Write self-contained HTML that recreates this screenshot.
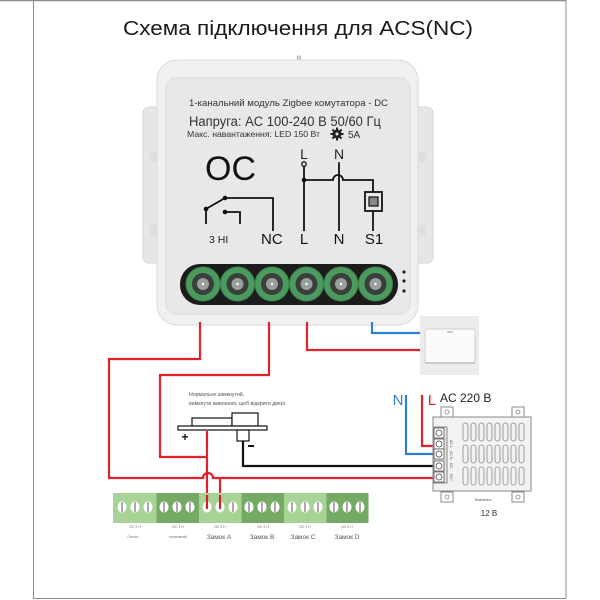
<!DOCTYPE html>
<html><head><meta charset="utf-8"><style>
html,body{margin:0;padding:0;background:#fff;}
svg{display:block;}
text{font-family:"Liberation Sans","Noto Sans CJK SC",sans-serif;}
</style></head><body>
<svg width="600" height="600" viewBox="0 0 600 600" xmlns="http://www.w3.org/2000/svg">
<rect x="0" y="0" width="600" height="600" fill="#fff"/>
<!-- frame -->
<line x1="0" y1="0.5" x2="566" y2="0.5" stroke="#8c8c8c" stroke-width="1.5"/>
<line x1="33.5" y1="0" x2="33.5" y2="599" stroke="#8c8c8c" stroke-width="1"/>
<line x1="566" y1="0" x2="566" y2="599" stroke="#8c8c8c" stroke-width="1"/>
<line x1="33" y1="598.5" x2="566" y2="598.5" stroke="#8c8c8c" stroke-width="1"/>

<!-- title -->
<text x="298" y="35" font-size="20" fill="#1a1a1a" text-anchor="middle" textLength="350" lengthAdjust="spacingAndGlyphs">Схема підключення для ACS(NC)</text>
<text x="299" y="60" font-size="6" fill="#777" text-anchor="middle">III</text>

<!-- module side tabs -->
<rect x="143" y="107" width="20" height="156" rx="6" fill="#e6e6e6" stroke="#d6d6d6"/>
<rect x="412" y="107" width="21" height="156" rx="6" fill="#e6e6e6" stroke="#d6d6d6"/>
<rect x="150" y="152" width="10" height="10" fill="#dedede"/>
<rect x="150" y="225" width="10" height="10" fill="#dedede"/>
<rect x="416" y="152" width="10" height="10" fill="#dedede"/>
<rect x="416" y="225" width="10" height="10" fill="#dedede"/>
<!-- module body -->
<rect x="157" y="60" width="261" height="265" rx="20" fill="#f0f0f0" stroke="#dadada"/>
<rect x="166" y="78" width="244" height="236" rx="10" fill="#e8e8e8" stroke="#d9d9d9"/>

<!-- module texts -->
<text x="189" y="106" font-size="9.5" fill="#333" textLength="199" lengthAdjust="spacingAndGlyphs">1-канальний модуль Zigbee комутатора - DC</text>
<text x="189" y="126" font-size="13.5" fill="#333" textLength="192" lengthAdjust="spacingAndGlyphs">Напруга: AC 100-240 В 50/60 Гц</text>
<text x="187" y="137" font-size="8.5" fill="#333" textLength="133" lengthAdjust="spacingAndGlyphs">Макс. навантаження: LED 150 Вт</text>
<g fill="#222">
<circle cx="337" cy="134" r="4.5"/>
<rect x="336" y="127.5" width="2" height="13"/>
<rect x="330.5" y="133" width="13" height="2"/>
<rect x="336" y="127.5" width="2" height="13" transform="rotate(45 337 134)"/>
<rect x="336" y="127.5" width="2" height="13" transform="rotate(-45 337 134)"/>
</g>
<circle cx="337" cy="134" r="1.5" fill="#e8e8e8"/>
<text x="348" y="138" font-size="10" fill="#333">5A</text>
<text x="205" y="180" font-size="34" fill="#111">OC</text>

<!-- relay -->
<g stroke="#111" stroke-width="1.8" fill="none">
<path d="M206 224 V209 L225 198 H273 V231"/>
<path d="M225 212 H240 V224"/>
<path d="M304 164 V231"/>
<path d="M304 180 H333 A5 5 0 0 1 343 180 H373 V192"/>
<path d="M373 211 V231"/>
<path d="M339 164 V231"/>
</g>
<circle cx="206" cy="209" r="2.3" fill="#111"/>
<circle cx="225" cy="198" r="2.3" fill="#111"/>
<circle cx="225" cy="212" r="2.3" fill="#111"/>
<circle cx="304" cy="164" r="2.2" fill="#e8e8e8" stroke="#111" stroke-width="1.3"/>
<circle cx="304" cy="180" r="2.3" fill="#111"/>
<circle cx="339" cy="163" r="1" fill="#111"/>
<rect x="365" y="192" width="17" height="19" fill="#e8e8e8" stroke="#111" stroke-width="1.8"/>
<rect x="369" y="197" width="9" height="9" fill="#888" stroke="#111" stroke-width="1.2"/>
<text x="304" y="159" font-size="14" fill="#222" text-anchor="middle">L</text>
<text x="339" y="159" font-size="14" fill="#222" text-anchor="middle">N</text>
<text x="209" y="243" font-size="10.5" fill="#222">3 HI</text>
<text x="261" y="244" font-size="15" fill="#111">NC</text>
<text x="304" y="244" font-size="15" fill="#111" text-anchor="middle">L</text>
<text x="339" y="244" font-size="15" fill="#111" text-anchor="middle">N</text>
<text x="374" y="244" font-size="15" fill="#111" text-anchor="middle">S1</text>

<!-- terminal block -->
<rect x="180" y="264" width="218" height="41" rx="20" fill="#1c1c1c"/>
<g fill="#4b9a5e" stroke="#3c8450" stroke-width="1">
<circle cx="203" cy="284" r="17"/>
<circle cx="237.5" cy="284" r="17"/>
<circle cx="272" cy="284" r="17"/>
<circle cx="306.5" cy="284" r="17"/>
<circle cx="341" cy="284" r="17"/>
<circle cx="375.5" cy="284" r="17"/>
</g>
<g fill="#3a3f3c">
<circle cx="203" cy="284" r="11"/>
<circle cx="237.5" cy="284" r="11"/>
<circle cx="272" cy="284" r="11"/>
<circle cx="306.5" cy="284" r="11"/>
<circle cx="341" cy="284" r="11"/>
<circle cx="375.5" cy="284" r="11"/>
</g>
<g fill="#9a9f9c">
<circle cx="203" cy="284" r="6"/>
<circle cx="237.5" cy="284" r="6"/>
<circle cx="272" cy="284" r="6"/>
<circle cx="306.5" cy="284" r="6"/>
<circle cx="341" cy="284" r="6"/>
<circle cx="375.5" cy="284" r="6"/>
</g>
<g fill="#fff">
<circle cx="203" cy="284" r="1.2"/>
<circle cx="237.5" cy="284" r="1.2"/>
<circle cx="272" cy="284" r="1.2"/>
<circle cx="306.5" cy="284" r="1.2"/>
<circle cx="341" cy="284" r="1.2"/>
<circle cx="375.5" cy="284" r="1.2"/>
</g>
<circle cx="404" cy="272" r="1.6" fill="#222"/>
<circle cx="404" cy="281" r="1.6" fill="#222"/>
<circle cx="404" cy="291" r="1.6" fill="#222"/>

<!-- switch -->
<rect x="420" y="316" width="59" height="59" fill="#ececec"/>
<rect x="425" y="329" width="50" height="34" rx="2" fill="#fafafa" stroke="#cfcfcf"/>
<line x1="425" y1="363" x2="475" y2="363" stroke="#bdbdbd" stroke-width="1.5"/>
<line x1="447" y1="332" x2="453" y2="332" stroke="#999" stroke-width="1"/>

<!-- wires -->
<g fill="none" stroke-width="2.2">
<path d="M200 322 V359 H109 V478 H203 A5 5 0 0 1 213 478 H441" stroke="#e0232a"/>
<path d="M269 322 V375 H160 V457 H207" stroke="#e0232a"/>
<path d="M207 431 V507" stroke="#e0232a"/>
<path d="M220 478 V507" stroke="#e0232a"/>
<path d="M307 322 V350 H420" stroke="#e0232a"/>
<path d="M372 322 V333 H420" stroke="#2a7fd0"/>
<path d="M243 441 V466 H441" stroke="#111"/>
<path d="M406 395 V454 H441" stroke="#2a7fd0"/>
<path d="M422 395 V446 H441" stroke="#e0232a"/>
</g>

<!-- lock -->
<text x="189" y="396" font-size="5.2" fill="#555">Нормально замкнутий,</text>
<text x="189" y="405" font-size="5.2" fill="#555">вимкнути живлення, щоб відкрити двері</text>
<g fill="#fff" stroke="#111" stroke-width="1.2">
<rect x="192" y="418" width="40" height="8"/>
<rect x="232" y="413" width="26" height="13"/>
<rect x="178" y="426" width="89" height="4"/>
<rect x="237" y="430" width="12" height="11"/>
</g>
<text x="185" y="441" font-size="12" font-weight="bold" fill="#111" text-anchor="middle">+</text>
<rect x="248" y="445" width="6" height="2" fill="#111"/>

<!-- power supply -->
<text x="398" y="405" font-size="15" fill="#2a7fd0" text-anchor="middle">N</text>
<text x="432" y="405" font-size="15" fill="#e0232a" text-anchor="middle">L</text>
<text x="440" y="402" font-size="12" fill="#222">AC 220 B</text>
<g fill="#fff" stroke="#888" stroke-width="1">
<rect x="441" y="407" width="12" height="10"/>
<rect x="512" y="407" width="12" height="10"/>
<rect x="441" y="492" width="12" height="10"/>
<rect x="512" y="492" width="12" height="10"/>
</g>
<g fill="none" stroke="#888" stroke-width="0.8">
<circle cx="447" cy="412" r="2"/>
<circle cx="518" cy="412" r="2"/>
<circle cx="447" cy="497" r="2"/>
<circle cx="518" cy="497" r="2"/>
</g>
<rect x="433" y="417" width="98" height="74" fill="#f2f2f2" stroke="#8a8a8a"/>
<rect x="433" y="427" width="14" height="56" fill="#e6e6e6" stroke="#888"/>
<g fill="#fff" stroke="#555" stroke-width="0.8">
<rect x="434" y="428" width="10" height="10"/>
<rect x="434" y="439" width="10" height="10"/>
<rect x="434" y="449" width="10" height="10"/>
<rect x="434" y="461" width="10" height="10"/>
<rect x="434" y="472" width="10" height="10"/>
</g>
<g fill="none" stroke="#444" stroke-width="0.8">
<circle cx="439" cy="433" r="3"/>
<circle cx="439" cy="444" r="3"/>
<circle cx="439" cy="454" r="3"/>
<circle cx="439" cy="466" r="3"/>
<circle cx="439" cy="477" r="3"/>
</g>
<g font-size="3.5" fill="#555">
<text x="450" y="440" transform="rotate(90 450 440)">AC L</text>
<text x="450" y="451" transform="rotate(90 450 451)">AC N</text>
<text x="450" y="463" transform="rotate(90 450 463)">DC-</text>
<text x="450" y="474" transform="rotate(90 450 474)">DC+</text>
</g>
<g fill="none" stroke="#8a8a8a" stroke-width="0.8">
<rect x="463" y="423" width="5" height="18" rx="2.5"/><rect x="471" y="423" width="5" height="18" rx="2.5"/><rect x="479" y="423" width="5" height="18" rx="2.5"/><rect x="487" y="423" width="5" height="18" rx="2.5"/><rect x="495" y="423" width="5" height="18" rx="2.5"/><rect x="503" y="423" width="5" height="18" rx="2.5"/><rect x="511" y="423" width="5" height="18" rx="2.5"/><rect x="519" y="423" width="5" height="18" rx="2.5"/>
<rect x="463" y="445" width="5" height="18" rx="2.5"/><rect x="471" y="445" width="5" height="18" rx="2.5"/><rect x="479" y="445" width="5" height="18" rx="2.5"/><rect x="487" y="445" width="5" height="18" rx="2.5"/><rect x="495" y="445" width="5" height="18" rx="2.5"/><rect x="503" y="445" width="5" height="18" rx="2.5"/><rect x="511" y="445" width="5" height="18" rx="2.5"/><rect x="519" y="445" width="5" height="18" rx="2.5"/>
<rect x="463" y="467" width="5" height="18" rx="2.5"/><rect x="471" y="467" width="5" height="18" rx="2.5"/><rect x="479" y="467" width="5" height="18" rx="2.5"/><rect x="487" y="467" width="5" height="18" rx="2.5"/><rect x="495" y="467" width="5" height="18" rx="2.5"/><rect x="503" y="467" width="5" height="18" rx="2.5"/><rect x="511" y="467" width="5" height="18" rx="2.5"/><rect x="519" y="467" width="5" height="18" rx="2.5"/>
</g>
<text x="483" y="501" font-size="3.5" fill="#555" text-anchor="middle">Живлення</text>
<text x="489" y="516" font-size="8" fill="#333" text-anchor="middle">12 B</text>

<!-- bottom terminal blocks -->
<rect x="113" y="493" width="43.5" height="30" fill="#a7d396"/>
<rect x="156.5" y="493" width="42.5" height="30" fill="#74aa64"/>
<rect x="199" y="493" width="42.5" height="30" fill="#a7d396"/>
<rect x="241.5" y="493" width="42.5" height="30" fill="#74aa64"/>
<rect x="284" y="493" width="42.5" height="30" fill="#a7d396"/>
<rect x="326.5" y="493" width="42" height="30" fill="#74aa64"/>
<g fill="#fff">
<ellipse cx="122" cy="507" rx="4.5" ry="5.5"/><ellipse cx="135" cy="507" rx="4.5" ry="5.5"/><ellipse cx="148" cy="507" rx="4.5" ry="5.5"/>
<ellipse cx="164" cy="507" rx="4.5" ry="5.5"/><ellipse cx="177" cy="507" rx="4.5" ry="5.5"/><ellipse cx="190" cy="507" rx="4.5" ry="5.5"/>
<ellipse cx="207" cy="507" rx="4.5" ry="5.5"/><ellipse cx="220" cy="507" rx="4.5" ry="5.5"/><ellipse cx="233" cy="507" rx="4.5" ry="5.5"/>
<ellipse cx="249" cy="507" rx="4.5" ry="5.5"/><ellipse cx="262" cy="507" rx="4.5" ry="5.5"/><ellipse cx="275" cy="507" rx="4.5" ry="5.5"/>
<ellipse cx="292" cy="507" rx="4.5" ry="5.5"/><ellipse cx="305" cy="507" rx="4.5" ry="5.5"/><ellipse cx="318" cy="507" rx="4.5" ry="5.5"/>
<ellipse cx="334" cy="507" rx="4.5" ry="5.5"/><ellipse cx="347" cy="507" rx="4.5" ry="5.5"/><ellipse cx="360" cy="507" rx="4.5" ry="5.5"/>
</g>
<g stroke="#555" stroke-width="1">
<line x1="122" y1="502" x2="122" y2="512"/><line x1="135" y1="502" x2="135" y2="512"/><line x1="148" y1="502" x2="148" y2="512"/>
<line x1="164" y1="502" x2="164" y2="512"/><line x1="177" y1="502" x2="177" y2="512"/><line x1="190" y1="502" x2="190" y2="512"/>
<line x1="233" y1="502" x2="233" y2="512"/>
<line x1="249" y1="502" x2="249" y2="512"/><line x1="262" y1="502" x2="262" y2="512"/><line x1="275" y1="502" x2="275" y2="512"/>
<line x1="292" y1="502" x2="292" y2="512"/><line x1="305" y1="502" x2="305" y2="512"/><line x1="318" y1="502" x2="318" y2="512"/>
<line x1="334" y1="502" x2="334" y2="512"/><line x1="347" y1="502" x2="347" y2="512"/><line x1="360" y1="502" x2="360" y2="512"/>
</g>
<g stroke="#d42028" stroke-width="2.2">
<line x1="207" y1="495" x2="207" y2="509"/>
<line x1="220" y1="495" x2="220" y2="509"/>
</g>
<g font-size="3.5" fill="#777" text-anchor="middle">
<text x="135" y="528">NC 3 H</text>
<text x="178" y="528">NC 3 H</text>
<text x="220" y="528">NC 3 H</text>
<text x="263" y="528">NC 3 H</text>
<text x="305" y="528">NC 3 H</text>
<text x="347" y="528">NC 3 H</text>
<text x="133" y="538">Плюси</text>
<text x="178" y="538">негативний</text>
</g>
<g font-size="6.5" fill="#555" text-anchor="middle">
<text x="219" y="539">Замок A</text>
<text x="262" y="539">Замок B</text>
<text x="303" y="539">Замок C</text>
<text x="347" y="539">Замок D</text>
</g>
</svg>
</body></html>
